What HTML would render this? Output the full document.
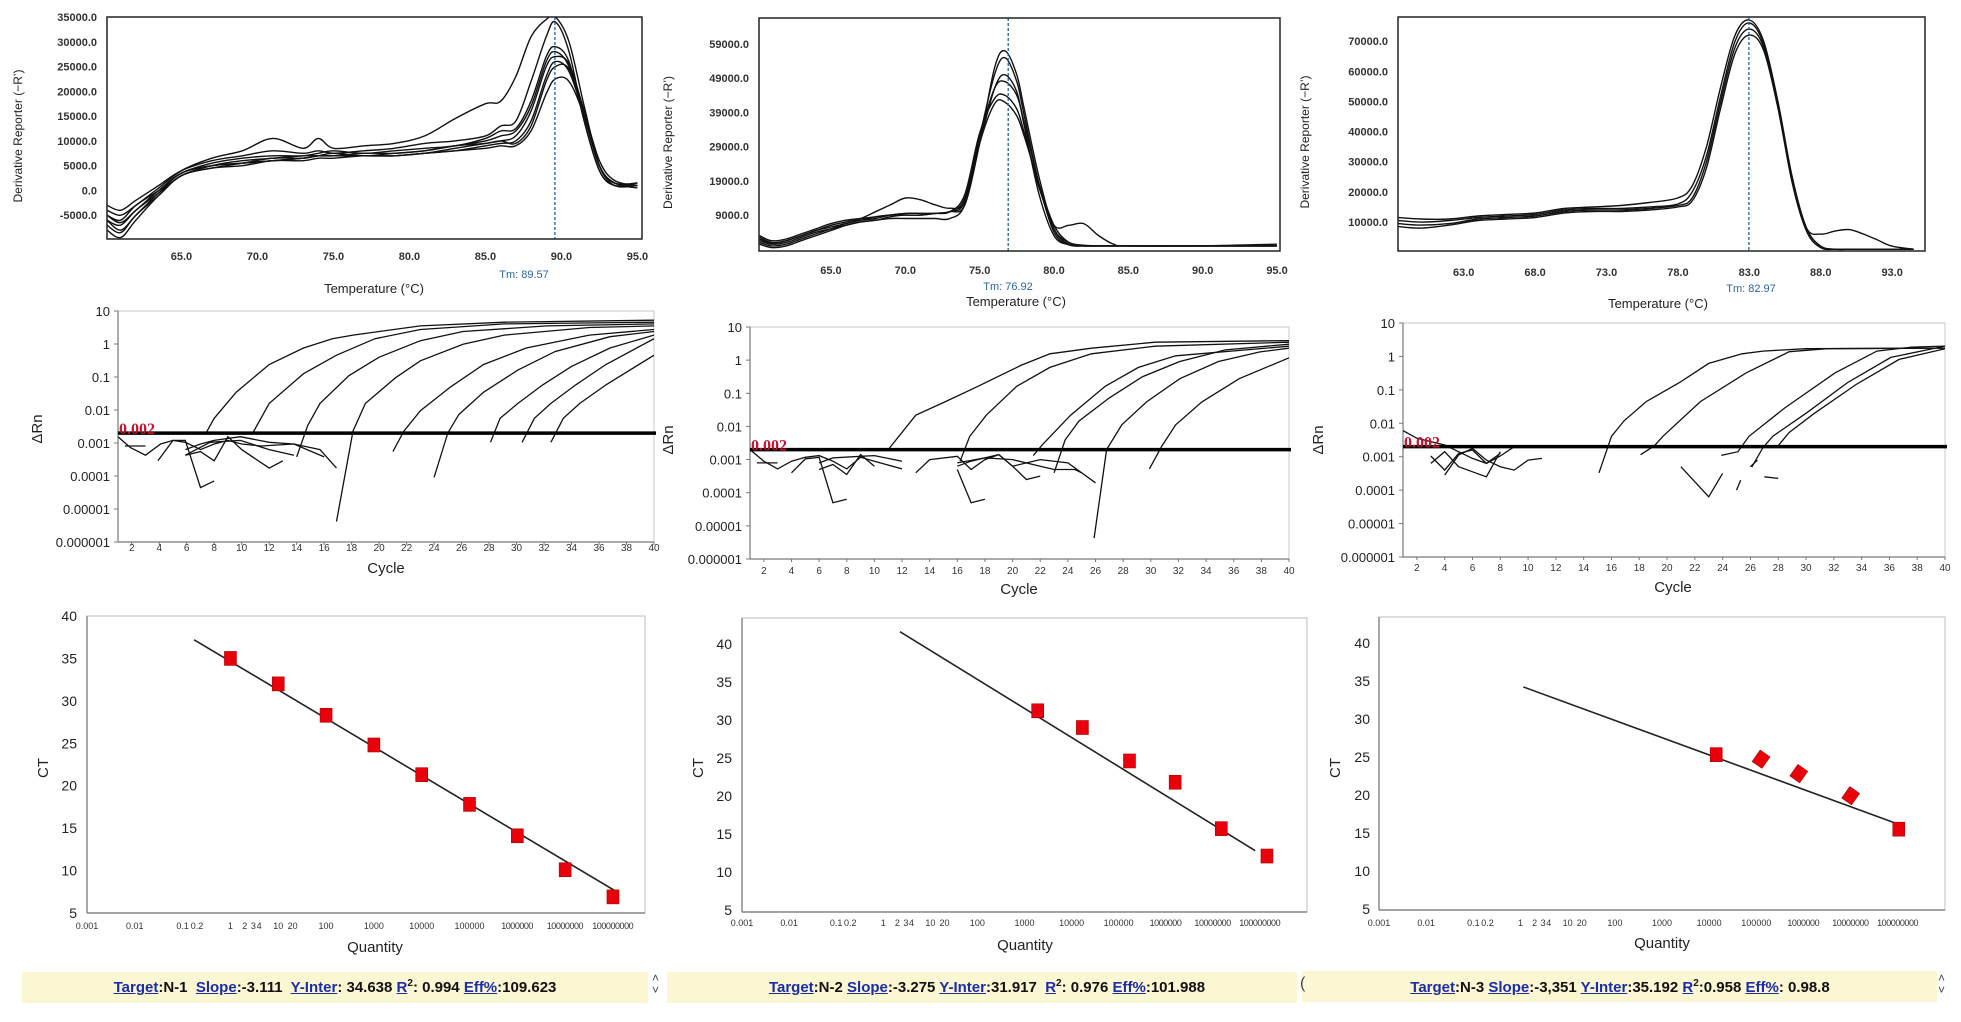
<!DOCTYPE html>
<html><head><meta charset="utf-8"><style>
html,body{margin:0;padding:0;background:#fff;}
svg{display:block;font-family:"Liberation Sans",Arial,sans-serif;}
</style></head><body>
<svg id="fig" width="1961" height="1022" viewBox="0 0 1961 1022" xmlns="http://www.w3.org/2000/svg"></svg>
<script>
// ---------- DATA ----------
const meltTempsA=[60.1,61,62,63.5,65,67,69,71,73,74,75,77,79,81,83,85,86,87,88,89,89.6,90.5,91.5,92.5,93.5,95];
const meltA1=[-4000,-5000,-3000,500,4000,6500,8000,10500,8500,10500,8500,9000,9500,11000,14500,17500,18000,23000,31000,34500,35000,30000,17000,5000,1500,1500];
const meltA2=[-3000,-4000,-2000,1000,4000,6000,7000,8000,7500,8000,7500,8000,8500,9500,10000,11000,13000,14000,22000,31000,34000,28000,14000,4000,1000,1000];
const meltA3=[-5000,-6000,-3000,0,3500,5500,6500,7000,7000,7500,8000,7500,8000,8500,9000,10500,12000,12500,18000,27000,29000,26000,14000,4000,1000,1500];
const meltA4=[-6000,-7000,-4000,-500,3000,5000,6000,6500,7000,7000,7000,7500,7500,8000,9000,10000,11000,12000,17000,26000,28000,25000,15000,5000,1500,1000];
const meltA5=[-7000,-8500,-5000,-1000,3000,4500,5500,6500,6500,7000,7000,7000,7000,7500,8500,9500,10000,11000,16000,25000,27000,25500,16000,6000,2000,1000];
const meltA6=[-8000,-9500,-6000,-1000,3000,4500,5000,6000,6000,6500,6500,7000,7000,7500,8000,9000,9500,10000,14000,23000,26000,24000,15000,5000,1500,500];
const meltA7=[-5000,-6500,-4000,0,3500,5000,5500,6000,6500,7000,7500,7000,7500,8000,9000,9500,10000,9500,13000,22000,25000,24500,16000,5000,1000,1000];
const meltA8=[-6000,-8000,-5000,-500,3500,5000,5500,6000,6500,7000,7000,7000,7000,7500,8000,8500,9000,9000,12000,19500,22500,22000,15000,5000,1500,1000];
const meltTempsB=[60.2,61,62,63,64,65,66,67,68,69,70,71,72,73,74,75,76,76.7,77.5,78,79,80,81,82,83,84,85,90,95];
const meltB1=[2500,1000,1500,3000,4500,5500,6500,7500,8000,9000,9500,9500,9500,10000,12000,30000,52000,57000,50000,40000,20000,5000,500,0,0,0,0,0,0];
const meltB2=[1500,500,1000,2500,4000,5000,6000,7000,7500,8500,9000,9000,9500,10000,13000,32000,50000,55000,48000,38000,18000,4000,300,0,0,0,0,0,0];
const meltB3=[2000,800,1500,3000,4500,6000,7000,8000,10000,12000,14000,13500,12000,11000,13000,30000,46000,50000,45000,35000,15000,3000,300,0,0,0,0,0,0];
const meltB4=[1000,0,500,2000,3500,5000,6500,7500,8500,9000,9500,9500,9500,10000,14000,32000,46000,48000,44000,36000,18000,5000,1000,200,0,0,0,0,0];
const meltB5=[3000,1500,2000,3500,5000,6500,7500,8000,8500,9000,9000,9000,9500,10000,15000,33000,43000,44000,40000,33000,17000,6000,6000,6500,3000,500,0,0,0];
const meltB6=[500,-500,0,1500,3000,4500,6000,7000,7500,8000,8000,8000,8000,8000,12000,30000,41500,42000,38000,32000,18000,6000,1000,0,0,0,0,0,500];
const meltTempsC=[58.4,60,62,64,66,68,70,72,74,76,78,79,80,81,82,83,84,85,86,87,88,89,90,91,92,93,94.5];
const meltC1=[11500,11000,11000,12000,12500,13000,14500,15000,15500,16500,18000,22000,35000,55000,72000,77000,70000,50000,25000,8000,2000,1000,1000,1000,1000,1000,1000];
const meltC2=[10500,10000,10500,11500,12000,12500,14000,14500,14500,15000,16000,20000,32000,52000,70000,76000,69000,49000,24000,8000,6000,7000,7500,6000,4000,2000,1000];
const meltC3=[9500,9000,9500,11000,11500,12000,13500,14000,14000,14500,15500,18000,30000,50000,68000,74000,68000,48000,23000,7000,1500,1000,1000,1000,1000,1000,1000];
const meltC4=[8500,8000,9000,10500,11000,11500,13000,13500,13500,14000,15000,17000,28000,48000,66000,72000,67000,48000,24000,8000,2000,1000,1000,1000,1000,1000,1000];
const meltTm=[89.57,76.92,82.97];
const meltYTicksA=[35000,30000,25000,20000,15000,10000,5000,0,-5000];
const meltYTicksB=[59000,49000,39000,29000,19000,9000];
const meltYTicksC=[70000,60000,50000,40000,30000,20000,10000];
const meltXTicksA=[65,70,75,80,85,90,95];
const meltXTicksB=[65,70,75,80,85,90,95];
const meltXTicksC=[63,68,73,78,83,88,93];

const ampA=[
[[7.4,-2.70],[8.0,-2.25],[9.6,-1.46],[12.0,-0.62],[14.5,-0.12],[16.6,0.16],[18.1,0.27],[23,0.55],[29.1,0.66],[40,0.72]],
[[10.8,-2.70],[12.0,-1.80],[14.5,-0.90],[16.9,-0.34],[19.7,0.16],[23,0.44],[29.1,0.61],[40,0.66]],
[[14.0,-3.42],[14.8,-2.47],[15.7,-1.80],[17.8,-0.96],[20,-0.40],[23,0.10],[26.1,0.38],[32.2,0.55],[40,0.61]],
[[16.9,-5.38],[18.1,-2.64],[19.0,-1.80],[21.2,-1.02],[23,-0.51],[26.1,-0.01],[29.1,0.27],[35.3,0.50],[40,0.55]],
[[21.0,-3.26],[21.8,-2.64],[23,-2.02],[25.2,-1.30],[27.6,-0.62],[30.7,-0.12],[35.3,0.27],[40,0.44]],
[[24.0,-4.04],[25,-2.70],[25.8,-2.14],[27.6,-1.46],[30.1,-0.79],[32.8,-0.23],[36.8,0.22],[40,0.38]],
[[28.1,-2.98],[28.8,-2.25],[30.1,-1.80],[31.9,-1.24],[34,-0.68],[36.8,-0.12],[40,0.27]],
[[30.4,-2.98],[31.3,-2.25],[32.5,-1.80],[34.3,-1.24],[36.5,-0.62],[40,0.16]],
[[32.5,-2.98],[33.4,-2.25],[34.6,-1.80],[36.5,-1.24],[40,-0.34]],
[[1,-2.81],[1.9,-3.14],[3,-3.37],[4.1,-3.03],[5,-2.92],[5.9,-2.98],[7,-3.20],[8,-3.03],[9,-2.92],[10,-3.03],[11.4,-3.09],[13.8,-3.03],[16,-3.42]],
[[1.5,-3.09],[3,-3.09]],
[[3.9,-3.54],[5,-2.92],[5.9,-2.92],[7,-4.35],[8,-4.15]],
[[5.9,-3.37],[7,-3.26],[8,-3.54],[9,-2.81],[10,-3.20],[12,-3.76],[13,-3.54]],
[[5.9,-3.20],[7,-3.03],[8,-2.92],[9.9,-2.81],[12,-2.98],[13.8,-3.03],[15.7,-3.20],[16.9,-3.76]],
[[5.9,-3.37],[7.7,-2.98],[9.9,-2.92],[12,-3.20],[13.8,-3.37]]
];
const ampB=[
[[11.0,-2.70],[13.0,-1.66],[15.1,-1.26],[17.5,-0.79],[20.6,-0.16],[22.7,0.19],[25.7,0.36],[30.3,0.54],[40,0.59]],
[[16.2,-3.05],[16.9,-2.30],[18.1,-1.66],[20.3,-0.79],[22.7,-0.22],[25.7,0.19],[30.3,0.42],[40,0.54]],
[[21.5,-2.88],[22.2,-2.53],[24.2,-1.66],[26.7,-0.79],[29.1,-0.22],[31.8,0.13],[40,0.42]],
[[23.0,-3.40],[23.8,-2.41],[24.8,-1.84],[27.0,-1.14],[29.4,-0.50],[32.1,-0.04],[35.4,0.31],[40,0.48]],
[[25.9,-5.37],[26.8,-2.70],[27.9,-1.95],[29.7,-1.26],[32.1,-0.56],[34.9,-0.04],[37.9,0.25],[40,0.36]],
[[29.9,-3.28],[30.8,-2.59],[31.8,-1.95],[33.7,-1.26],[36.4,-0.56],[40,0.07]],
[[1,-2.70],[2,-3.05],[3,-3.28],[4,-3.05],[5,-2.93],[6,-2.88],[7,-3.05],[8,-3.28],[9,-2.93],[10,-3.05],[12,-3.28]],
[[1.5,-3.10],[3,-3.10]],
[[4,-3.40],[5,-2.98],[6,-2.93],[7,-4.3],[8,-4.2]],
[[6,-3.30],[7,-3.15],[8,-3.45],[9,-2.85],[10,-3.2]],
[[6,-3.10],[7,-2.95],[9,-2.90],[10,-2.88],[12,-3.05]],
[[13,-3.40],[14,-3.0],[16,-2.9],[17,-3.3],[18,-3.0],[19,-2.85],[20,-3.2],[22,-3.0],[24,-3.1],[26,-3.7]],
[[16,-3.30],[17,-4.3],[18,-4.2]],
[[16,-3.2],[17,-3.05],[18,-2.95],[19,-2.85],[20,-3.2],[21,-3.6],[22,-3.5]],
[[16,-3.1],[18,-2.95],[20,-3.0],[22,-3.2],[23,-3.3],[24.5,-3.3],[25,-3.4]]
];
const ampC=[
[[15.1,-3.48],[16.0,-2.39],[16.9,-1.93],[18.5,-1.35],[20.9,-0.78],[23.0,-0.21],[25.4,0.08],[26.9,0.16],[30.0,0.23],[40,0.25]],
[[18.1,-2.94],[19.1,-2.67],[19.7,-2.39],[22.4,-1.35],[25.7,-0.49],[28.8,0.14],[31.5,0.23],[40,0.25]],
[[23.9,-2.96],[25.1,-2.85],[25.9,-2.39],[28.5,-1.53],[32.1,-0.49],[35.1,0.16],[37.6,0.28],[40,0.31]],
[[26.1,-3.31],[26.9,-2.73],[27.6,-2.39],[30.0,-1.70],[33.0,-0.78],[36.1,-0.03],[40,0.31]],
[[28.0,-2.67],[28.8,-2.27],[30.6,-1.70],[33.6,-0.84],[36.7,-0.09],[40,0.23]],
[[1,-2.22],[2,-2.45],[4,-2.65],[5,-2.85],[6,-3.05],[7,-3.2],[8,-2.9]],
[[3,-2.98],[4,-3.4],[5,-2.90],[6,-2.80],[7,-3.2],[8,-2.98],[9,-2.70]],
[[4,-3.55],[5,-2.95],[6,-2.75],[7,-3.1],[8,-3.3],[9,-3.4],[10,-3.1],[11,-3.05]],
[[3,-3.20],[4,-2.85],[5,-3.3],[6,-3.45],[7,-3.6],[8,-2.85]],
[[21,-3.3],[23,-4.2],[24,-3.5]],
[[25,-4.0],[25.3,-3.7]],
[[26,-3.3],[26.5,-3.1]],
[[27,-3.60],[28,-3.65]]
];
const ampThreshold=0.002;
const ampYTickLabels=["10","1","0.1","0.01","0.001","0.0001","0.00001","0.000001"];
const ampYTickLogs=[1,0,-1,-2,-3,-4,-5,-6];
const ampXTicks=[2,4,6,8,10,12,14,16,18,20,22,24,26,28,30,32,34,36,38,40];

const stdLogQA=[0,1,2,3,4,5,6,7,8];
const stdCtA=[35,32,28.3,24.8,21.3,17.8,14.1,10.1,6.9];
const stdFitA=[[-0.76,37.2],[8.02,7.7]];
const stdLogQB=[3.28,4.23,5.23,6.2,7.18,8.15];
const stdCtB=[31.2,29.0,24.6,21.8,15.7,12.1];
const stdFitB=[[0.355,41.6],[7.9,12.8]];
const stdLogQC=[4.15,5.1,5.9,7.0,8.02];
const stdCtC=[25.3,24.7,22.8,19.9,15.5];
const stdFitC=[[0.06,34.2],[7.95,16.3]];
const stdYTicks=[5,10,15,20,25,30,35,40];
const stdXTickLabels=["0.001","0.01","0.1","0.2","1","2","3","4","10","20","100","1000","10000","100000","1000000","10000000","100000000"];
const stdXTickLogs=[-3,-2,-1,-0.7,0,0.3,0.48,0.6,1,1.3,2,3,4,5,6,7,8];

// ---------- RENDER ----------
const NS="http://www.w3.org/2000/svg";
const svg=document.getElementById('fig');
function mk(tag,attrs,parent){const e=document.createElementNS(NS,tag);for(const k in attrs)e.setAttribute(k,attrs[k]);(parent||svg).appendChild(e);return e;}
function lin(d0,d1,r0,r1){return v=>r0+(v-d0)/(d1-d0)*(r1-r0);}
function txt(s,x,y,attrs,parent){const t=mk('text',Object.assign({x:x,y:y},attrs),parent);t.textContent=s;return t;}
function smooth(pts){
 let d='M'+pts[0][0].toFixed(1)+','+pts[0][1].toFixed(1);
 for(let i=0;i<pts.length-1;i++){
  const p0=pts[Math.max(0,i-1)],p1=pts[i],p2=pts[i+1],p3=pts[Math.min(pts.length-1,i+2)];
  const c1=[p1[0]+(p2[0]-p0[0])/6,p1[1]+(p2[1]-p0[1])/6];
  const c2=[p2[0]-(p3[0]-p1[0])/6,p2[1]-(p3[1]-p1[1])/6];
  d+=' C'+c1[0].toFixed(1)+','+c1[1].toFixed(1)+' '+c2[0].toFixed(1)+','+c2[1].toFixed(1)+' '+p2[0].toFixed(1)+','+p2[1].toFixed(1);
 }
 return d;
}

const meltCfg=[
 {box:[107,17,642,239],xd:[60.1,95.3],yd:[-9800,35000],yt:meltYTicksA,xt:meltXTicksA,tx:meltTempsA,series:[meltA1,meltA2,meltA3,meltA4,meltA5,meltA6,meltA7,meltA8],tmLab:[524,278],tLab:[374,293],tickY:260,yTitleX:19},
 {box:[759,18,1280,251],xd:[60.16,95.2],yd:[-1500,66600],yt:meltYTicksB,xt:meltXTicksB,tx:meltTempsB,series:[meltB1,meltB2,meltB3,meltB4,meltB5,meltB6],tmLab:[1008,290],tLab:[1016,306],tickY:274,yTitleX:669},
 {box:[1398,17,1925,251],xd:[58.4,95.3],yd:[400,78000],yt:meltYTicksC,xt:meltXTicksC,tx:meltTempsC,series:[meltC1,meltC2,meltC3,meltC4],tmLab:[1751,292],tLab:[1658,308],tickY:276,yTitleX:1306}
];
meltCfg.forEach((c,i)=>{
 const g=mk('g',{});
 
 
 const [x0,y0,x1,y1]=c.box;
 const X=lin(c.xd[0],c.xd[1],x0,x1), Y=lin(c.yd[0],c.yd[1],y1,y0);
 const cp=mk('clipPath',{id:'mc'+i},g); mk('rect',{x:x0,y:y0,width:x1-x0,height:y1-y0},cp);
 c.series.forEach((s,j)=>{
  const p=mk('path',{d:smooth(s.map((v,k)=>[X(c.tx[k]),Y(v)])),fill:'none',stroke:'#111','stroke-width':1.4,'stroke-linejoin':'round','clip-path':'url(#mc'+i+')'},g);
  
  
 });
 const tm=mk('line',{x1:X(meltTm[i]),x2:X(meltTm[i]),y1:y0,y2:y1,stroke:'#1f5fa8','stroke-width':1.3,'stroke-dasharray':'3,2'},g);
 
 
 const bx=mk('rect',{x:x0,y:y0,width:x1-x0,height:y1-y0,fill:'none',stroke:'#222','stroke-width':1.5},g);
 
 
 c.yt.forEach(v=>{
  const t=txt(v.toFixed(1),x0-10,Y(v)+4,{'font-size':11,'font-weight':'bold','text-anchor':'end',fill:'#333'},g);
  
  
 });
 c.xt.forEach(v=>{
  const t=txt(v.toFixed(1),X(v),c.tickY,{'font-size':11,'font-weight':'bold','text-anchor':'middle',fill:'#333'},g);
  
  
 });
 const tl=txt('Tm: '+meltTm[i].toFixed(2),c.tmLab[0],c.tmLab[1],{'font-size':11,'text-anchor':'middle',fill:'#2a64a8'},g);
 
 
 const xt=txt('Temperature (°C)',c.tLab[0],c.tLab[1],{'font-size':13,'text-anchor':'middle',fill:'#222'},g);
 
 
 const cy=(y0+y1)/2+8;
 const yt=txt('Derivative Reporter (−R’)',c.yTitleX,cy,{'font-size':12,'text-anchor':'middle',fill:'#222',transform:'rotate(-90 '+c.yTitleX+' '+cy+')','dominant-baseline':'middle'},g);
 
 
});

const ampCfg=[
 {box:[118,311,654,542],data:ampA,tickY:551,cyc:[386,573],dr:[42,429]},
 {box:[750,327,1289,559],data:ampB,tickY:574,cyc:[1019,594],dr:[673,440]},
 {box:[1403,323,1945,557],data:ampC,tickY:571,cyc:[1673,592],dr:[1323,440]}
];
ampCfg.forEach((c,i)=>{
 const g=mk('g',{});
 
 
 const [x0,y0,x1,y1]=c.box;
 const X=lin(1,40,x0,x1), Y=lin(-6,1,y1,y0);
 const cp=mk('clipPath',{id:'ac'+i},g); mk('rect',{x:x0,y:y0,width:x1-x0,height:y1-y0},cp);
 const bx=mk('rect',{x:x0,y:y0,width:x1-x0,height:y1-y0,fill:'none',stroke:'#c8c8c8','stroke-width':1},g);
 
 
 mk('line',{x1:x0,x2:x0,y1:y0,y2:y1,stroke:'#777','stroke-width':1.2},g);
 mk('line',{x1:x0,x2:x1,y1:y1,y2:y1,stroke:'#777','stroke-width':1.2},g);
 c.data.forEach((s,j)=>{
  const p=mk('polyline',{points:s.map(d=>X(d[0]).toFixed(1)+','+Y(d[1]).toFixed(1)).join(' '),fill:'none',stroke:'#111','stroke-width':1.3,'clip-path':'url(#ac'+i+')'},g);
  
  
 });
 const ty=Y(Math.log10(ampThreshold));
 const th=mk('line',{x1:x0,x2:x1+2,y1:ty,y2:ty,stroke:'#000','stroke-width':3.5},g);
 
 
 const tl=txt(String(ampThreshold),x0+1,ty+1,{'font-size':16,'font-weight':'bold','font-family':'"Liberation Serif",serif',fill:'#c8102e'},g);
 
 
 ampYTickLogs.forEach((v,k)=>{
  mk('line',{x1:x0-4,x2:x0,y1:Y(v),y2:Y(v),stroke:'#777'},g);
  const t=txt(ampYTickLabels[k],x0-8,Y(v)+5,{'font-size':13,'text-anchor':'end',fill:'#222'},g);
  
  
 });
 ampXTicks.forEach(v=>{
  mk('line',{x1:X(v),x2:X(v),y1:y1,y2:y1+3,stroke:'#777'},g);
  const t=txt(String(v),X(v),c.tickY,{'font-size':10,'text-anchor':'middle',fill:'#333'},g);
  
  
 });
 const ct=txt('Cycle',c.cyc[0],c.cyc[1],{'font-size':15,'text-anchor':'middle',fill:'#222'},g);
 
 
 const dr=txt('ΔRn',c.dr[0],c.dr[1],{'font-size':15,'text-anchor':'middle',fill:'#222',transform:'rotate(-90 '+c.dr[0]+' '+c.dr[1]+')'},g);
 
 
});

const stdCfg=[
 {box:[87,616,645,913],yd:[5,40],xd:[-3,8.67],lq:stdLogQA,ct:stdCtA,fit:stdFitA,tickY:929,q:[375,952],ctl:[48,768],ylx:77,diamond:[]},
 {box:[742,618,1307,912],yd:[4.74,43.4],xd:[-3,9.0],lq:stdLogQB,ct:stdCtB,fit:stdFitB,tickY:926,q:[1025,950],ctl:[703,768],ylx:732,diamond:[]},
 {box:[1379,617,1945,910],yd:[4.87,43.4],xd:[-3,9.0],lq:stdLogQC,ct:stdCtC,fit:stdFitC,tickY:926,q:[1662,948],ctl:[1340,768],ylx:1370,diamond:[1,2,3]}
];
stdCfg.forEach((c,i)=>{
 const g=mk('g',{});
 
 
 const [x0,y0,x1,y1]=c.box;
 const X=lin(c.xd[0],c.xd[1],x0,x1), Y=lin(c.yd[0],c.yd[1],y1,y0);
 const bx=mk('rect',{x:x0,y:y0,width:x1-x0,height:y1-y0,fill:'none',stroke:'#c8c8c8','stroke-width':1.2},g);
 
 
 mk('line',{x1:x0,x2:x0,y1:y0,y2:y1,stroke:'#888','stroke-width':1.4},g);
 mk('line',{x1:x0,x2:x1,y1:y1,y2:y1,stroke:'#888','stroke-width':1.4},g);
 stdYTicks.forEach(v=>{
  const t=txt(String(v),c.ylx,Y(v)+5,{'font-size':14,'text-anchor':'end',fill:'#222'},g);
  
  
 });
 stdXTickLogs.forEach((v,k)=>{
  const t=txt(stdXTickLabels[k],X(v),c.tickY,{'font-size':9,'text-anchor':'middle',fill:'#333'},g);
  if(stdXTickLabels[k].length>6)t.setAttribute('textLength',stdXTickLabels[k].length*4.6);
  
  
 });
 const fl=mk('line',{x1:X(c.fit[0][0]),y1:Y(c.fit[0][1]),x2:X(c.fit[1][0]),y2:Y(c.fit[1][1]),stroke:'#222','stroke-width':1.6},g);
 
 
 c.lq.forEach((v,k)=>{
  const px=X(v),py=Y(c.ct[k]);
  const r=mk('rect',{x:px-6,y:py-7,width:12,height:14,fill:'#e8000b',stroke:'#b00000','stroke-width':0.6},g);
  if(c.diamond.indexOf(k)>=0) r.setAttribute('transform','rotate(35 '+px+' '+py+')');
  
  
 });
 const q=txt('Quantity',c.q[0],c.q[1],{'font-size':15,'text-anchor':'middle',fill:'#222'},g);
 
 
 const ct=txt('CT',c.ctl[0],c.ctl[1],{'font-size':15,'text-anchor':'middle',fill:'#222',transform:'rotate(-90 '+c.ctl[0]+' '+c.ctl[1]+')'},g);
 
 
});
</script>
<div style="position:absolute;left:0;top:0;width:1961px;height:1022px;pointer-events:none;">
 <div style="position:absolute;left:22px;top:972px;width:626px;height:31px;background:#fbf7d2;"></div>
 <div style="position:absolute;left:667px;top:972px;width:630px;height:31px;background:#fbf7d2;"></div>
 <div style="position:absolute;left:1302px;top:971px;width:635px;height:31px;background:#fbf7d2;"></div>
 <div style="position:absolute;left:22px;top:978px;width:626px;text-align:center;font:bold 15px 'Liberation Sans',sans-serif;color:#111;white-space:nowrap;">
  <u style="color:#1b2ca8">Target</u>:N-1&nbsp; <u style="color:#1b2ca8">Slope</u>:-3.111&nbsp; <u style="color:#1b2ca8">Y-Inter</u>: 34.638 <u style="color:#1b2ca8">R</u><sup style="font-size:10px">2</sup>: 0.994 <u style="color:#1b2ca8">Eff%</u>:109.623</div>
 <div style="position:absolute;left:667px;top:978px;width:640px;text-align:center;font:bold 15px 'Liberation Sans',sans-serif;color:#111;white-space:nowrap;">
  <u style="color:#1b2ca8">Target</u>:N-2 <u style="color:#1b2ca8">Slope</u>:-3.275 <u style="color:#1b2ca8">Y-Inter</u>:31.917&nbsp; <u style="color:#1b2ca8">R</u><sup style="font-size:10px">2</sup>: 0.976 <u style="color:#1b2ca8">Eff%</u>:101.988</div>
 <div style="position:absolute;left:1302px;top:978px;width:636px;text-align:center;font:bold 15px 'Liberation Sans',sans-serif;color:#111;white-space:nowrap;">
  <u style="color:#1b2ca8">Target</u>:N-3 <u style="color:#1b2ca8">Slope</u>:-3,351 <u style="color:#1b2ca8">Y-Inter</u>:35.192 <u style="color:#1b2ca8">R</u><sup style="font-size:10px">2</sup>:0.958 <u style="color:#1b2ca8">Eff%</u>: 0.98.8</div>
 <div style="position:absolute;left:652px;top:972px;font:12px 'Liberation Sans',sans-serif;line-height:12px;color:#444;">˄<br>˅</div>
 <div style="position:absolute;left:1300px;top:975px;font:16px 'Liberation Sans',sans-serif;color:#444;">(</div>
 <div style="position:absolute;left:1938px;top:972px;font:12px 'Liberation Sans',sans-serif;line-height:12px;color:#444;">˄<br>˅</div>
</div>
</body></html>
